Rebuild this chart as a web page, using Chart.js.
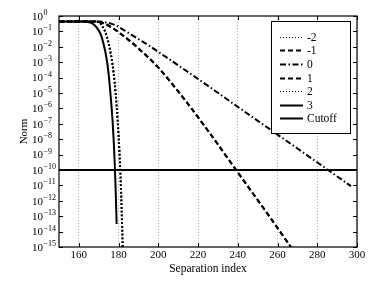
<!DOCTYPE html>
<html>
<head>
<meta charset="utf-8">
<script src="https://cdn.jsdelivr.net/npm/chart.js@4/dist/chart.umd.min.js"></script>
<style>
  html, body { margin: 0; padding: 0; background: #fff; }
  #wrap { width: 382px; height: 287px; }
</style>
</head>
<body>
<div id="wrap"><canvas id="result" width="382" height="287"></canvas></div>
<script>
// values
const xTicks = [160, 180, 200, 220, 240, 260, 280, 300]
const yTicks = [1, 1e-1, 1e-2, 1e-3, 1e-4, 1e-5, 1e-6, 1e-7, 1e-8, 1e-9, 1e-10, 1e-11, 1e-12, 1e-13, 1e-14, 1e-15]

const dotX = [150, 168, 170, 172, 174, 176, 177, 178, 179, 180, 181, 181.5, 182.2]
const dotY = [0.447, 0.437, 0.398, 0.2, 0.0501, 3.98e-3, 6.31e-4, 5.01e-5, 1.58e-6, 1.58e-8, 3.16e-11, 3.16e-13, 3.16e-16]

const dashX = [150, 168, 172, 176, 180, 185, 190, 195, 200, 205, 210, 215, 225, 240, 255, 270]
const dashY = [0.447, 0.437, 0.355, 0.2, 0.0891, 0.0282, 7.94e-3, 2.0e-3, 4.47e-4, 7.94e-5, 1.26e-5, 1.91e-6, 3.55e-8, 7.08e-11, 1.41e-13, 2.51e-16]

const dashDotX = [150, 170, 172, 175, 178, 181, 185, 190, 196, 200, 210, 228.5, 240, 270, 297]
const dashDotY = [0.447, 0.437, 0.417, 0.355, 0.263, 0.166, 0.0794, 0.0316, 0.0105, 4.68e-3, 6.31e-4, 1.41e-5, 1.26e-6, 2.51e-9, 8.91e-12]

const solidX = [150, 163, 165, 167, 169, 171, 172.5, 174, 175, 176, 177, 178, 178.5, 179]
const solidY = [0.447, 0.437, 0.398, 0.316, 0.178, 0.0631, 0.0141, 1.6e-3, 1.6e-4, 6.3e-6, 1.3e-7, 4.0e-10, 6.31e-12, 3.16e-14]

const cutoffX = [150, 300]
const cutoffY = [1e-10, 1e-10]

const labels = ['-2', '-1', '0', '1', '2', '3', 'Cutoff']

const FONT = 'Liberation Serif, DejaVu Serif, serif'

function pts (xs, ys) {
  return xs.map((x, i) => ({ x: x, y: ys[i] }))
}

function line (label, xs, ys, dash, width) {
  return {
    label: label,
    data: pts(xs, ys),
    borderColor: '#000',
    borderWidth: width,
    borderDash: dash,
    pointRadius: 0,
    fill: false,
    cubicInterpolationMode: 'monotone'
  }
}

const datasets = [
  line(labels[0], dotX, dotY, [1.8, 2], 2),
  line(labels[1], dashX, dashY, [5, 3], 2),
  line(labels[2], dashDotX, dashDotY, [6, 2.5, 1.5, 2.5], 2),
  line(labels[3], dashX, dashY, [5, 3], 2),
  line(labels[4], dotX, dotY, [1.8, 2], 2),
  line(labels[5], solidX, solidY, [], 2),
  line(labels[6], cutoffX, cutoffY, [], 2)
]

// frame, inward ticks, y labels with exponents, legend box
const decor = {
  id: 'decor',
  afterDraw (chart) {
    const ctx = chart.ctx
    const a = chart.chartArea
    const xs = chart.scales.x
    const ys = chart.scales.y
    ctx.save()
    ctx.strokeStyle = '#000'
    ctx.lineWidth = 1
    ctx.setLineDash([])
    ctx.beginPath()
    xTicks.forEach(v => {
      const px = Math.round(xs.getPixelForValue(v)) + 0.5
      ctx.moveTo(px, a.bottom); ctx.lineTo(px, a.bottom - 4)
      ctx.moveTo(px, a.top); ctx.lineTo(px, a.top + 4)
    })
    yTicks.forEach(v => {
      const py = Math.round(ys.getPixelForValue(v)) + 0.5
      ctx.moveTo(a.left, py); ctx.lineTo(a.left + 4, py)
      ctx.moveTo(a.right, py); ctx.lineTo(a.right - 4, py)
    })
    ctx.stroke()
    ctx.lineWidth = 1.2
    ctx.strokeRect(a.left, a.top, a.right - a.left, a.bottom - a.top)

    // y tick labels: 10 with a raised exponent
    ctx.fillStyle = '#000'
    ctx.textBaseline = 'middle'
    yTicks.forEach(v => {
      const py = ys.getPixelForValue(v)
      const e = String(Math.round(Math.log10(v)))
      ctx.font = '11px ' + FONT
      ctx.textAlign = 'right'
      ctx.fillText('10', 43, py + 1)
      ctx.font = '8px ' + FONT
      ctx.textAlign = 'left'
      ctx.fillText(e.replace('-', '\u2212'), 43.5, py - 3)
    })

    // legend
    const bx = 271
    const by = 21
    const bw = 79
    const bh = 112
    ctx.fillStyle = '#fff'
    ctx.fillRect(bx, by, bw, bh)
    ctx.lineWidth = 1
    ctx.strokeStyle = '#000'
    ctx.strokeRect(bx + 0.5, by + 0.5, bw, bh)
    chart.data.datasets.forEach((ds, i) => {
      const y = Math.round(by + 15.7 + i * 13.6) + 0.5
      const dotted = ds.borderDash.length === 2 && ds.borderDash[0] < 2
      ctx.lineWidth = dotted ? 1 : ds.borderWidth
      ctx.setLineDash(dotted ? [1, 2] : ds.borderDash)
      ctx.beginPath()
      ctx.moveTo(280, y)
      ctx.lineTo(303, y)
      ctx.stroke()
      ctx.setLineDash([])
      ctx.fillStyle = '#000'
      ctx.font = '11.5px ' + FONT
      ctx.textAlign = 'left'
      ctx.textBaseline = 'middle'
      ctx.fillText(ds.label, 307, y + 0.5)
    })
    ctx.restore()
  }
}

new Chart(document.getElementById('result').getContext('2d'), {
  type: 'line',
  data: { datasets: datasets },
  options: {
    responsive: false,
    animation: false,
    layout: { padding: { top: 16, right: 25, left: 0, bottom: 0 } },
    plugins: { legend: { display: false }, tooltip: { enabled: false } },
    scales: {
      x: {
        type: 'linear',
        min: 150,
        max: 300,
        afterBuildTicks: s => { s.ticks = xTicks.map(v => ({ value: v })) },
        afterFit: s => { s.height = 40 },
        grid: { color: '#9a9a9a', lineWidth: 0.8, drawTicks: false },
        border: { display: false, dash: [1, 2] },
        ticks: { color: '#000', font: { family: FONT, size: 11 }, padding: 2, maxRotation: 0 },
        title: { display: true, text: 'Separation index', color: '#000', font: { family: FONT, size: 11.5 }, padding: { top: 0, bottom: 11 } }
      },
      y: {
        type: 'logarithmic',
        min: 1e-15,
        max: 1,
        afterBuildTicks: s => { s.ticks = yTicks.map(v => ({ value: v })) },
        afterFit: s => { s.width = 59 },
        grid: { display: false },
        border: { display: false },
        ticks: { display: false },
        title: { display: true, text: 'Norm', color: '#000', font: { family: FONT, size: 11 }, padding: { top: 18, bottom: 0 } }
      }
    }
  },
  plugins: [decor]
})
</script>
</body>
</html>
